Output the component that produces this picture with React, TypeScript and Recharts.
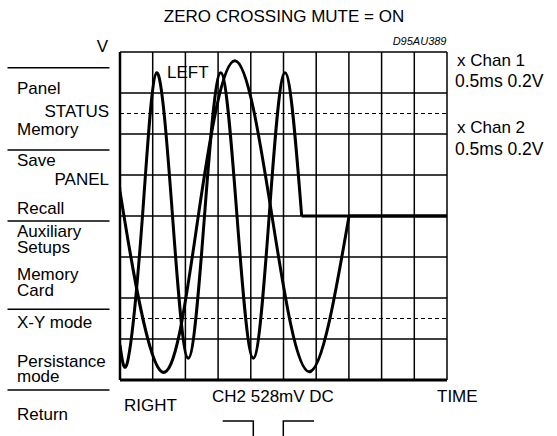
import React from 'react';
import { LineChart, Line, XAxis, YAxis, ReferenceLine } from 'recharts';

// Time axis in ms (0.5 ms/div), voltage axis in V (0.2 V/div)
const timeGridMs = [0, 0.5, 1, 1.5, 2, 2.5, 3, 3.5, 4, 4.5, 5];
const voltGrid = [-0.8, -0.6, -0.4, -0.2, 0, 0.2, 0.4, 0.6, 0.8];
const thresholdVolts = [0.5, -0.5];

// Chan 1 (LEFT) waveform: extremes and zero crossings
const chan1Time = [0, 0.127, 0.344, 0.561, 0.803, 1.044, 1.292, 1.54, 1.789, 2.038, 2.281, 2.523, 2.778];
const chan1Volt = [-0.629, -0.694, 0, 0.699, 0, -0.694, 0, 0.699, 0, -0.694, 0, 0.699, 0];
// Chan 1 after mute (held at zero)
const chan1MuteTime = [2.778, 5];
const chan1MuteVolt = [0, 0];

// Chan 2 (RIGHT) waveform
const chan2Time = [0, 0.061, 0.638, 1.197, 1.758, 2.324, 2.894, 3.502];
const chan2Volt = [0.127, 0, -0.76, 0, 0.757, 0, -0.76, 0];
const chan2MuteTime = [3.502, 5];
const chan2MuteVolt = [0, 0];

const toSeries = (ts: number[], vs: number[]) => ts.map((t, i) => ({ t, v: vs[i] }));

const FONT = '"Liberation Sans", Arial, Helvetica, sans-serif';

const menuLeft: { text: string; x: number; y: number; anchor?: string }[] = [
  { text: 'V', x: 108, y: 51.5, anchor: 'end' },
  { text: 'Panel', x: 17, y: 94 },
  { text: 'STATUS', x: 109, y: 117, anchor: 'end' },
  { text: 'Memory', x: 17, y: 135 },
  { text: 'Save', x: 17, y: 166 },
  { text: 'PANEL', x: 109, y: 185, anchor: 'end' },
  { text: 'Recall', x: 17, y: 214 },
  { text: 'Auxiliary', x: 17, y: 237 },
  { text: 'Setups', x: 17, y: 252.5 },
  { text: 'Memory', x: 17, y: 280 },
  { text: 'Card', x: 17, y: 296 },
  { text: 'X-Y mode', x: 17, y: 328 },
  { text: 'Persistance', x: 17, y: 366.5 },
  { text: 'mode', x: 17, y: 382 },
  { text: 'Return', x: 17, y: 420 },
];
const separatorsY = [67.7, 150, 221, 309.3, 390];

export default function App() {
  const W = 557;
  const H = 436;
  return (
    <div style={{ position: 'absolute', left: 0, top: 0, width: W, height: H, background: '#fff' }}>
      <LineChart
        width={W}
        height={H}
        margin={{ top: 52, right: 110, bottom: 56, left: 120 }}
        style={{ position: 'absolute', left: 0, top: 0 }}
      >
        <XAxis type="number" dataKey="t" domain={[0, 5]} hide allowDataOverflow />
        <YAxis type="number" dataKey="v" domain={[-0.8, 0.8]} hide allowDataOverflow />
        {timeGridMs.map((t) => (
          <ReferenceLine
            key={'vx' + t}
            x={t}
            stroke="#000"
            strokeWidth={t === 0 ? 2.5 : 1.5}
            ifOverflow="visible"
          />
        ))}
        {voltGrid.map((v) => (
          <ReferenceLine
            key={'hy' + v}
            y={v}
            stroke="#000"
            strokeWidth={v === -0.8 ? 3 : 1.5}
            ifOverflow="visible"
          />
        ))}
        {thresholdVolts.map((v) => (
          <ReferenceLine key={'th' + v} y={v} stroke="#000" strokeWidth={1.2} strokeDasharray="4 3" />
        ))}
        <Line
          data={toSeries(chan1Time, chan1Volt)}
          dataKey="v"
          type="natural"
          stroke="#000"
          strokeWidth={3}
          dot={false}
          activeDot={false}
          isAnimationActive={false}
        />
        <Line
          data={toSeries(chan1MuteTime, chan1MuteVolt)}
          dataKey="v"
          type="linear"
          stroke="#000"
          strokeWidth={3}
          dot={false}
          activeDot={false}
          isAnimationActive={false}
        />
        <Line
          data={toSeries(chan2Time, chan2Volt)}
          dataKey="v"
          type="natural"
          stroke="#000"
          strokeWidth={3}
          dot={false}
          activeDot={false}
          isAnimationActive={false}
        />
        <Line
          data={toSeries(chan2MuteTime, chan2MuteVolt)}
          dataKey="v"
          type="linear"
          stroke="#000"
          strokeWidth={3}
          dot={false}
          activeDot={false}
          isAnimationActive={false}
        />
      </LineChart>
      <svg
        width={W}
        height={H}
        style={{ position: 'absolute', left: 0, top: 0, pointerEvents: 'none' }}
        fontFamily={FONT}
      >
        <text x={284} y={21.5} fontSize={17} textAnchor="middle" fill="#000">
          ZERO CROSSING MUTE = ON
        </text>
        <text x={446.5} y={45} fontSize={11} fontStyle="italic" textAnchor="end" fill="#000">
          D95AU389
        </text>
        {menuLeft.map((m, i) => (
          <text key={i} x={m.x} y={m.y} fontSize={17} textAnchor={m.anchor || 'start'} fill="#000">
            {m.text}
          </text>
        ))}
        {separatorsY.map((y) => (
          <line key={y} x1={7.5} x2={109.5} y1={y} y2={y} stroke="#000" strokeWidth={1.5} />
        ))}
        <text x={167} y={78} fontSize={17} fill="#000">LEFT</text>
        <text x={124} y={411} fontSize={17} fill="#000">RIGHT</text>
        <text x={212} y={402} fontSize={17} fill="#000">CH2 528mV DC</text>
        <text x={437} y={402} fontSize={17} fill="#000">TIME</text>
        <text x={457} y={66} fontSize={17} fill="#000">{'x Chan 1'}</text>
        <text x={455} y={87} fontSize={17.5} fill="#000">0.5ms 0.2V</text>
        <text x={457} y={133} fontSize={17} fill="#000">{'x Chan 2'}</text>
        <text x={455} y={155} fontSize={17.5} fill="#000">0.5ms 0.2V</text>
        <path d="M222.7,421 H253.3 V437 H283.3 V421 H314" fill="none" stroke="#000" strokeWidth={1.5} />
      </svg>
    </div>
  );
}
